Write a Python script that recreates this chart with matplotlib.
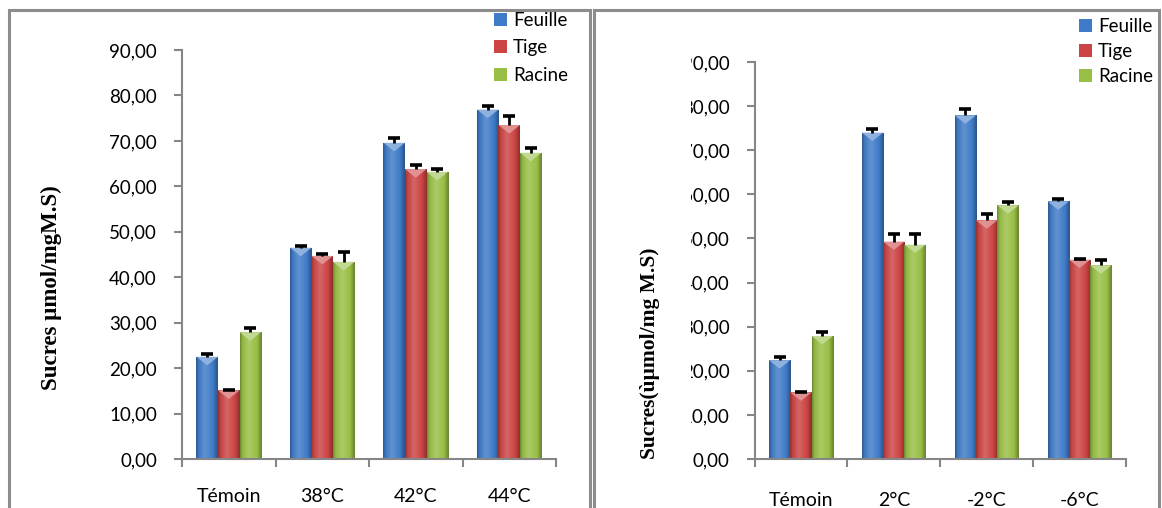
import numpy as np
import matplotlib
matplotlib.use("Agg")
import matplotlib.pyplot as plt
from matplotlib.patches import Rectangle, Polygon, Patch
from matplotlib.colors import to_rgb
from matplotlib.transforms import Bbox, TransformedBbox

W, H = 1162, 508

organes = ["Feuille", "Tige", "Racine"]
couleurs = ["#3F7BC8", "#CC4444", "#98BF45"]
yticks = [0, 10, 20, 30, 40, 50, 60, 70, 80, 90]

# chaleur
cat_chaud = ["Témoin", "38°C", "42°C", "44°C"]
feuille_chaud = [22.5, 46.5, 69.6, 76.9]
tige_chaud = [15.1, 44.7, 63.8, 73.5]
racine_chaud = [27.9, 43.4, 63.2, 67.4]
err_feuille_chaud = [0.7, 0.3, 1.0, 0.7]
err_tige_chaud = [0.15, 0.5, 1.0, 1.9]
err_racine_chaud = [0.9, 2.1, 0.7, 1.0]

# froid
cat_froid = ["Témoin", "2°C", "-2°C", "-6°C"]
feuille_froid = [22.4, 74.0, 77.9, 58.4]
tige_froid = [15.1, 49.3, 54.1, 45.2]
racine_froid = [27.9, 48.6, 57.5, 43.9]
err_feuille_froid = [0.8, 0.7, 1.4, 0.5]
err_tige_froid = [0.2, 1.8, 1.4, 0.2]
err_racine_froid = [1.0, 2.5, 0.7, 1.3]

plt.rcParams["font.family"] = ["Lato", "DejaVu Sans"]

fig = plt.figure(figsize=(W / 100, H / 100), dpi=100)


def fx(x):
    return x / W


def fy(y):
    return 1 - y / H


def degrade(base):
    c = np.array(to_rgb(base))
    blanc = np.ones(3)
    t = np.linspace(0, 1, 64)
    pts = [0.0, 0.1, 0.4, 0.78, 1.0]
    cols = [c * 0.7, c * 0.95, c * 0.82 + blanc * 0.18, c, c * 0.68]
    out = np.zeros((1, len(t), 3))
    for k in range(3):
        out[0, :, k] = np.interp(t, pts, [col[k] for col in cols])
    return np.clip(out, 0, 1)


def barres(ax, series, erreurs, cats):
    x = np.arange(len(cats))
    w = 0.23
    for i, (vals, errs, col) in enumerate(zip(series, erreurs, couleurs)):
        pos = x + (i - 1) * w
        rects = ax.bar(pos, vals, w, color=col, edgecolor="none", zorder=2)
        grad = degrade(col)
        clair = np.array(to_rgb(col)) * 0.55 + 0.45
        for r in rects:
            x0, y0 = r.get_x(), r.get_y()
            x1, y1 = x0 + r.get_width(), y0 + r.get_height()
            im = ax.imshow(grad, extent=[x0, x1, y0, y1], aspect="auto",
                           interpolation="bicubic", zorder=2)
            im.set_clip_path(r)
            ax.add_patch(Polygon([[x0, y1], [x1, y1], [(x0 + x1) / 2, y1 - 1.9]],
                                 closed=True, facecolor=clair, edgecolor="none",
                                 alpha=0.9, zorder=3))
        _, caps, _ = ax.errorbar(pos, vals, yerr=[np.zeros(len(vals)), errs],
                                 fmt="none", ecolor="black", elinewidth=2,
                                 capsize=4.3, capthick=2.6, zorder=4)
        # seul le trait supérieur est visible
        caps[0].set_visible(False)
    ax.set_xlim(-0.5, len(cats) - 0.5)
    ax.set_ylim(0, 90)
    ax.set_yticks(yticks)
    ax.set_yticklabels([f"{v:.2f}".replace(".", ",") for v in yticks], fontsize=13.5)
    ax.set_xticks(x)
    ax.set_xticklabels(cats, fontsize=14)
    ax.set_xticks(np.arange(len(cats) + 1) - 0.5, minor=True)
    ax.tick_params(axis="x", which="major", length=0, pad=21)
    ax.tick_params(axis="x", which="minor", length=6, width=1.5, color="#868686")
    ax.tick_params(axis="y", length=6, width=1.5, color="#868686", pad=12)
    for s in ["top", "right"]:
        ax.spines[s].set_visible(False)
    for s in ["left", "bottom"]:
        ax.spines[s].set_color("#868686")
        ax.spines[s].set_linewidth(1.5)


# cadres des deux graphiques
for x0, x1 in [(9, 590), (594, 1159)]:
    fig.add_artist(Rectangle((fx(x0), fy(520)), fx(x1) - fx(x0), fy(10) - fy(520),
                             transform=fig.transFigure, fill=False,
                             edgecolor="#8C8C8C", linewidth=2.2))

ax1 = fig.add_axes([fx(182), fy(459), fx(556) - fx(182), fy(50) - fy(459)])
barres(ax1, [feuille_chaud, tige_chaud, racine_chaud],
       [err_feuille_chaud, err_tige_chaud, err_racine_chaud], cat_chaud)
ax1.set_ylabel("Sucres µmol/mgM.S)", fontsize=16.5, fontweight="bold",
               family="Liberation Serif", labelpad=0)
ax1.yaxis.set_label_coords((62 - 182) / (556 - 182), (459 - 288) / (459 - 50))

ax2 = fig.add_axes([fx(754.5), fy(459), fx(1126) - fx(754.5), fy(62) - fy(459)])
barres(ax2, [feuille_froid, tige_froid, racine_froid],
       [err_feuille_froid, err_tige_froid, err_racine_froid], cat_froid)
ax2.tick_params(axis="x", which="major", pad=24)
ax2.set_ylabel("Sucres(ùµmol/mg M.S)", fontsize=15.5, fontweight="bold",
               family="Liberation Serif", labelpad=0)
ax2.yaxis.set_label_coords((660 - 754.5) / (1126 - 754.5), (459 - 353) / (459 - 62))

# les graduations du second graphique sont coupées à gauche
coupe = TransformedBbox(Bbox([[fx(691), 0], [1, 1]]), fig.transFigure)
for lab in ax2.get_yticklabels():
    lab.set_clip_box(coupe)
    lab.set_clip_on(True)

handles = [Patch(facecolor=c, edgecolor="none") for c in couleurs]
for ax, (lx, ly, esp) in [(ax1, (481, -1, 0.55)), (ax2, (1066, 5, 0.42))]:
    fig.legend(handles, organes, loc="upper left",
               bbox_to_anchor=(fx(lx), fy(ly)), bbox_transform=fig.transFigure,
               frameon=False, fontsize=13.5, handlelength=0.7, handleheight=0.7,
               handletextpad=0.3, labelspacing=esp, borderpad=0.2)

fig.savefig("out.png", dpi=100)
